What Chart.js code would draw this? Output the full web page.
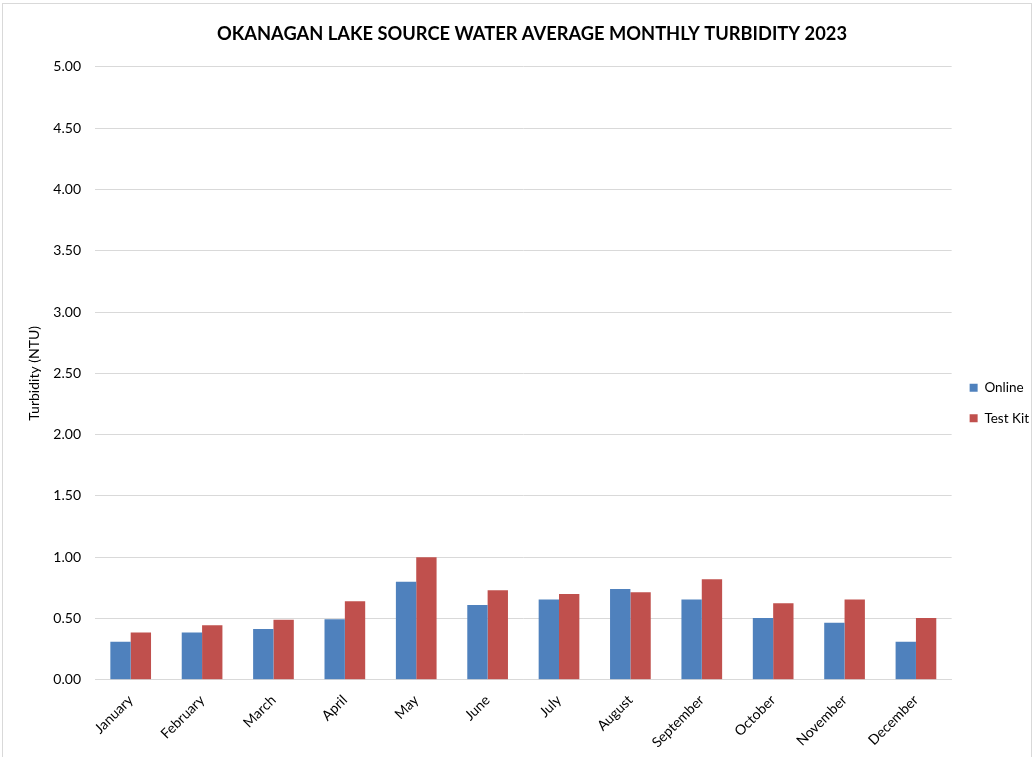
<!DOCTYPE html>
<html>
<head>
<meta charset="utf-8">
<script src="https://cdn.jsdelivr.net/npm/chart.js@4"></script>
<style>
  html, body { margin: 0; padding: 0; background: #fff; }
  #wrap { position: relative; width: 1035px; height: 757px; }
  #frame { position: absolute; left: 2px; top: 3px; width: 1030px; height: 760px; border: 1px solid #d9d9d9; box-sizing: border-box; pointer-events: none; }
  canvas { position: absolute; left: 0; top: 0; }
</style>
</head>
<body>
<div id="wrap">
  <canvas id="c" width="1035" height="757"></canvas>
  <div id="frame"></div>
</div>
<script>
const categories = ["January","February","March","April","May","June","July","August","September","October","November","December"];
const onlineValues = [0.31, 0.385, 0.415, 0.495, 0.80, 0.61, 0.655, 0.74, 0.655, 0.505, 0.465, 0.31];
const testKitValues = [0.385, 0.445, 0.49, 0.64, 1.00, 0.73, 0.70, 0.715, 0.82, 0.625, 0.655, 0.505];
const seriesNames = ["Online", "Test Kit"];
const chartTitle = "OKANAGAN LAKE SOURCE WATER AVERAGE MONTHLY TURBIDITY 2023";
const yAxisTitle = "Turbidity (NTU)";

const FONT = "Lato, 'Open Sans', sans-serif";
Chart.defaults.font.family = FONT;
Chart.defaults.color = "#000";

const legendShift = {
  id: "legendShift",
  afterLayout(chart) {
    const lg = chart.legend;
    if (!lg) return;
    lg.top += 17; lg.bottom += 17;
    lg.left += 1; lg.right += 1;
  }
};

new Chart(document.getElementById("c"), {
  type: "bar",
  data: {
    labels: categories,
    datasets: [
      { label: seriesNames[0], data: onlineValues, backgroundColor: "#4F81BD", categoryPercentage: 0.57, barPercentage: 1.0 },
      { label: seriesNames[1], data: testKitValues, backgroundColor: "#C0504D", categoryPercentage: 0.57, barPercentage: 1.0 }
    ]
  },
  plugins: [legendShift],
  options: {
    responsive: false,
    animation: false,
    layout: { padding: { left: 26, right: -3, top: 17, bottom: 2 } },
    plugins: {
      title: {
        display: true,
        text: chartTitle,
        font: { size: 18.3, weight: "bold", family: FONT },
        color: "#000",
        padding: { top: 6, bottom: 22 }
      },
      legend: {
        position: "right",
        labels: {
          boxWidth: 8,
          boxHeight: 8,
          padding: 17,
          font: { size: 13.5, family: FONT },
          color: "#000"
        }
      },
      tooltip: { enabled: false }
    },
    scales: {
      x: {
        grid: { display: false },
        border: { display: true, color: "#d9d9d9", width: 1 },
        ticks: { maxRotation: 45, minRotation: 45, font: { size: 14, family: FONT }, color: "#000", padding: 4 }
      },
      y: {
        min: 0,
        max: 5,
        afterFit: scale => { scale.width = 69; },
        ticks: {
          stepSize: 0.5,
          callback: v => v.toFixed(2),
          font: { size: 14, family: FONT },
          color: "#000",
          padding: 14
        },
        grid: { color: "#d9d9d9", drawTicks: false, lineWidth: 1 },
        border: { display: false },
        title: {
          display: true,
          text: yAxisTitle,
          font: { size: 14, family: FONT },
          color: "#000",
          padding: { top: 0, bottom: 6 }
        }
      }
    }
  }
});
</script>
</body>
</html>
